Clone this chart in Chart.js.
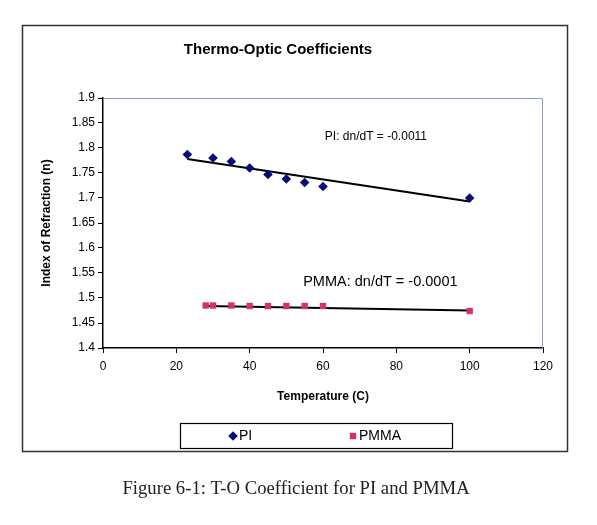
<!DOCTYPE html>
<html><head><meta charset="utf-8">
<script src="https://cdn.jsdelivr.net/npm/chart.js@4.4.0/dist/chart.umd.min.js"></script>
<style>html,body{margin:0;padding:0;background:#fff;}#wrap{width:597px;height:525px;position:relative;}</style>
</head><body><div id="wrap"><canvas id="c" width="597" height="525"></canvas></div>
<script>
// ---- data ----
const piTemps   = [23, 30, 35, 40, 45, 50, 55, 60, 100];
const piIndex   = [1.787, 1.780, 1.773, 1.760, 1.747, 1.738, 1.731, 1.723, 1.700];
const pmmaTemps = [28, 30, 35, 40, 45, 50, 55, 60, 100];
const pmmaIndex = [1.485, 1.485, 1.485, 1.484, 1.484, 1.484, 1.484, 1.484, 1.474];
const piTrendX   = [23, 100];
const piTrendY   = [1.778, 1.693];
const pmmaTrendX = [28, 100];
const pmmaTrendY = [1.484, 1.475];
const xTickLabels = ['0', '20', '40', '60', '80', '100', '120'];
const yTickLabels = ['1.4', '1.45', '1.5', '1.55', '1.6', '1.65', '1.7', '1.75', '1.8', '1.85', '1.9'];
const seriesNames = ['PI', 'PMMA'];
const chartTitle = 'Thermo-Optic Coefficients';
const xTitle = 'Temperature (C)';
const yTitle = 'Index of Refraction (n)';
const piNote = 'PI: dn/dT = -0.0011';
const pmmaNote = 'PMMA: dn/dT = -0.0001';
const caption = 'Figure 6-1: T-O Coefficient for PI and PMMA';

const toPts = (xs, ys) => xs.map((x, i) => ({x: x, y: ys[i]}));
const SANS = '"Liberation Sans", Arial, sans-serif';

const decor = {
  id: 'decor',
  beforeDraw(chart) {
    const ctx = chart.ctx;
    ctx.save();
    ctx.fillStyle = '#fff';
    ctx.fillRect(0, 0, chart.width, chart.height);
    ctx.restore();
  },
  beforeDatasetsDraw(chart) {
    const ctx = chart.ctx, a = chart.chartArea;
    ctx.save();
    ctx.strokeStyle = '#8c9fc2';
    ctx.lineWidth = 1;
    ctx.beginPath();
    ctx.moveTo(a.left, a.top + 0.5);
    ctx.lineTo(a.right - 0.5, a.top + 0.5);
    ctx.lineTo(a.right - 0.5, a.bottom);
    ctx.stroke();
    ctx.restore();
  },
  afterDraw(chart) {
    const ctx = chart.ctx, xs = chart.scales.x, ys = chart.scales.y;
    ctx.save();
    // outer frame
    ctx.strokeStyle = '#333';
    ctx.lineWidth = 1.5;
    ctx.strokeRect(22.5, 25.5, 545, 426);
    // title
    ctx.fillStyle = '#000';
    ctx.font = 'bold 15px ' + SANS;
    ctx.textAlign = 'center';
    ctx.textBaseline = 'middle';
    ctx.fillText(chartTitle, 278, 50);
    // trendline labels
    ctx.textAlign = 'left';
    ctx.font = '12px ' + SANS;
    ctx.fillText(piNote, xs.getPixelForValue(60.5), ys.getPixelForValue(1.822));
    ctx.font = '14.5px ' + SANS;
    ctx.fillText(pmmaNote, xs.getPixelForValue(54.6), ys.getPixelForValue(1.533));
    // legend box
    ctx.lineWidth = 1.2;
    ctx.strokeStyle = '#000';
    ctx.strokeRect(180.5, 423.5, 272, 25);
    const ds = chart.data.datasets;
    const items = [{x: 233, ds: ds[0]}, {x: 353, ds: ds[1]}];
    ctx.font = '14px ' + SANS;
    items.forEach(it => {
      ctx.fillStyle = it.ds.backgroundColor;
      Chart.helpers.drawPoint(ctx, {pointStyle: it.ds.pointStyle, radius: it.ds.pointRadius, rotation: 0, borderWidth: 0}, it.x, 436);
      ctx.fillStyle = '#000';
      ctx.fillText(it.ds.label, it.x + 6, 436);
    });
    // caption
    ctx.font = '18.7px "Liberation Serif", "DejaVu Serif", serif';
    ctx.textAlign = 'center';
    ctx.fillStyle = '#222';
    ctx.fillText(caption, 296, 489);
    ctx.restore();
  }
};

new Chart(document.getElementById('c'), {
  type: 'scatter',
  data: {
    datasets: [
      {label: seriesNames[0], data: toPts(piTemps, piIndex), pointStyle: 'rectRot', pointRadius: 4.8,
       backgroundColor: '#0a0a78', borderColor: '#0a0a78', borderWidth: 0, showLine: false, order: 1},
      {label: seriesNames[1], data: toPts(pmmaTemps, pmmaIndex), pointStyle: 'rect', pointRadius: 4.5,
       backgroundColor: '#d4306a', borderColor: '#d4306a', borderWidth: 0, showLine: false, order: 1},
      {label: 'PI trend', data: toPts(piTrendX, piTrendY), showLine: true, pointRadius: 0,
       borderColor: '#000', borderWidth: 2, order: 2},
      {label: 'PMMA trend', data: toPts(pmmaTrendX, pmmaTrendY), showLine: true, pointRadius: 0,
       borderColor: '#000', borderWidth: 2, order: 2}
    ]
  },
  options: {
    responsive: false,
    animation: false,
    events: [],
    layout: {padding: {left: 22, top: 98, right: 54, bottom: 117}},
    plugins: {legend: {display: false}, title: {display: false}, tooltip: {enabled: false}},
    scales: {
      x: {
        type: 'linear', min: 0, max: 120,
        ticks: {stepSize: 20, color: '#000', font: {family: SANS, size: 12}, padding: 6,
                callback: (v, i) => xTickLabels[i]},
        grid: {drawOnChartArea: false, drawTicks: true, tickLength: 5, tickColor: '#000'},
        border: {color: '#000', width: 1.5},
        title: {display: true, text: xTitle, color: '#000', font: {family: SANS, size: 12, weight: 'bold'},
                padding: {top: 0, bottom: 4}},
        afterFit: s => { s.height = 60; }
      },
      y: {
        type: 'linear', min: 1.4, max: 1.9,
        ticks: {stepSize: 0.05, color: '#000', font: {family: SANS, size: 12}, padding: 3,
                callback: (v, i) => yTickLabels[i]},
        grid: {drawOnChartArea: false, drawTicks: true, tickLength: 5, tickColor: '#000'},
        border: {color: '#000', width: 1.5},
        title: {display: true, text: yTitle, color: '#000', font: {family: SANS, size: 12, weight: 'bold'},
                padding: {top: 17, bottom: 0}},
        afterFit: s => { s.width = 81; }
      }
    }
  },
  plugins: [decor]
});
</script></body></html>
